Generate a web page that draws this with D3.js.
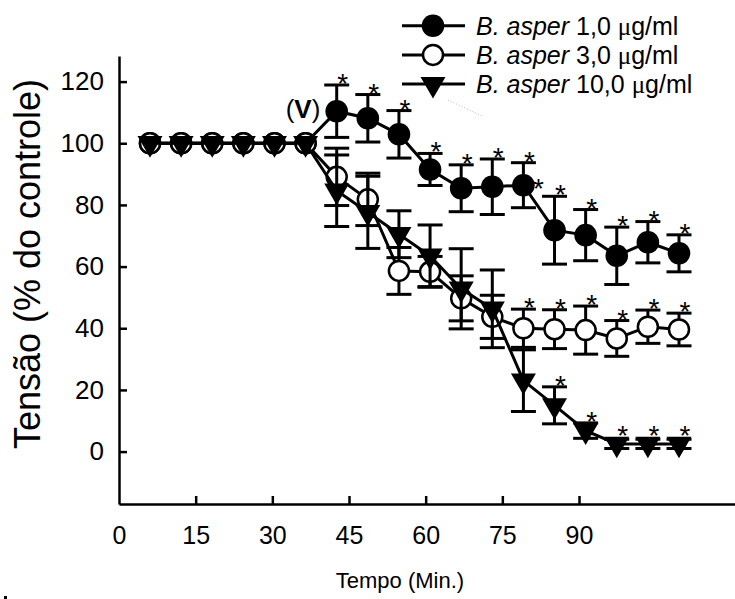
<!DOCTYPE html>
<html>
<head>
<meta charset="utf-8">
<script src="https://cdn.jsdelivr.net/npm/d3@7"></script>
<style>
  body { margin: 0; background: #fff; }
  svg { display: block; font-family: "Liberation Sans", Arial, sans-serif; }
</style>
</head>
<body>
<svg id="chart" width="735" height="599"></svg>
<script>
// data
var times = [5, 10, 15, 20, 25, 30, 35, 40, 45, 50, 55, 60, 65, 70, 75, 80, 85, 90]
var xTickValues = [0, 15, 30, 45, 60, 75, 90]
var yTickValues = [0, 20, 40, 60, 80, 100, 120]

var asper1 = [100, 100, 100, 100, 100, 100, 110.4, 108.1, 102.9, 91.5, 85.4, 85.9, 86.4, 71.8, 70.2, 63.5, 67.9, 64.3]
var asper1Err = [0, 0, 0, 0, 0, 0, 8.5, 7.7, 7.7, 5.2, 7.6, 9, 7.3, 11, 8.3, 9.3, 6.7, 6]
var asper1Sig = [0, 0, 0, 0, 0, 0, 1, 1, 1, 1, 1, 1, 2, 1, 1, 1, 1, 1]

var asper3 = [100, 100, 100, 100, 100, 100, 89.1, 81.8, 58.6, 58.3, 49.7, 43.7, 40, 39.7, 39.4, 36.7, 40.5, 39.6]
var asper3Err = [0, 0, 0, 0, 0, 0, 9.3, 8.5, 7.6, 5, 7.3, 7, 6.2, 6.3, 7.8, 5.8, 5.4, 5.3]
var asper3Sig = [0, 0, 0, 0, 0, 0, 0, 0, 0, 0, 0, 0, 1, 1, 1, 1, 1, 1]

var asper10 = [100, 100, 100, 100, 100, 100, 84.6, 77.6, 70.5, 63.5, 52.8, 46.3, 23, 15, 6.8, 2.5, 2.5, 2.5]
var asper10Err = [0, 0, 0, 0, 0, 0, 11.6, 11.7, 7.6, 10, 13, 12.6, 10, 6, 2.5, 1.5, 1.5, 1.5]
var asper10Sig = [0, 0, 0, 0, 0, 0, 0, 0, 0, 0, 0, 0, 0, 1, 1, 1, 1, 1]

var legendLabels = ["1,0", "3,0", "10,0"]

var svg = d3.select("#chart")

// the printed time labels and the plotted points do not share one scale in the figure
var xData = d3.scaleLinear().domain([5, 90]).range([150, 679])
var xTick = d3.scaleLinear().domain([0, 90]).range([119, 579])
xTick.domain([0, xTick.invert(735)]).range([119, 735])
var y = d3.scaleLinear().domain([-17, 128.3]).range([504, 56])

var xAxis = svg.append("g").attr("transform", "translate(0,504)")
  .call(d3.axisBottom(xTick).tickValues(xTickValues).tickSize(-8).tickSizeOuter(0).tickPadding(22))
var yAxis = svg.append("g").attr("transform", "translate(119,0)")
  .call(d3.axisLeft(y).tickValues(yTickValues).tickSize(-8).tickSizeOuter(0).tickPadding(15))

svg.selectAll(".domain, .tick line").attr("stroke", "#000").attr("stroke-width", 2.5)
svg.selectAll(".tick text").attr("fill", "#000").style("font-size", "25px")
  .style("font-family", "'Liberation Sans', Arial, sans-serif")
yAxis.selectAll(".tick text").style("font-size", "26px")
xAxis.selectAll(".tick line").filter(function(d) { return d == 0 }).remove()

svg.append("text").attr("x", 400).attr("y", 588).attr("text-anchor", "middle")
  .style("font-size", "22px").text("Tempo (Min.)")
svg.append("text").attr("transform", "translate(40,264) rotate(-90)").attr("text-anchor", "middle")
  .style("font-size", "36px").text("Tensão (% do controle)")

var triangle = d3.symbol(d3.symbolTriangle, 270)

function drawMarker(g, kind) {
  if (kind == "filled") g.append("circle").attr("r", 11.3).attr("fill", "#000")
  else if (kind == "open") g.append("circle").attr("r", 10).attr("fill", "#fff").attr("stroke", "#000").attr("stroke-width", 2.5)
  else g.append("path").attr("d", triangle()).attr("transform", "rotate(180)").attr("fill", "#000")
}

var series = [
  {values: asper1, err: asper1Err, sig: asper1Sig, kind: "filled"},
  {values: asper3, err: asper3Err, sig: asper3Sig, kind: "open"},
  {values: asper10, err: asper10Err, sig: asper10Sig, kind: "triangle"}
]

var line = d3.line().x(function(d) { return xData(d.t) }).y(function(d) { return y(d.v) })

series.forEach(function(s) {
  var pts = times.map(function(t, i) { return {t: t, v: s.values[i], e: s.err[i], sig: s.sig[i]} })
  var g = svg.append("g")
  g.append("path").datum(pts).attr("d", line).attr("fill", "none").attr("stroke", "#000").attr("stroke-width", 3)

  var bars = g.selectAll(".err").data(pts.filter(function(d) { return d.e > 0 })).enter().append("g")
  bars.append("line").attr("x1", function(d) { return xData(d.t) }).attr("x2", function(d) { return xData(d.t) })
    .attr("y1", function(d) { return y(d.v + d.e) }).attr("y2", function(d) { return y(d.v - d.e) })
    .attr("stroke", "#000").attr("stroke-width", 3)
  ;[1, -1].forEach(function(sgn) {
    bars.append("line").attr("x1", function(d) { return xData(d.t) - 12.5 }).attr("x2", function(d) { return xData(d.t) + 12.5 })
      .attr("y1", function(d) { return y(d.v + sgn * d.e) }).attr("y2", function(d) { return y(d.v + sgn * d.e) })
      .attr("stroke", "#000").attr("stroke-width", 3)
  })

  g.selectAll(".mk").data(pts).enter().append("g")
    .attr("transform", function(d) { return "translate(" + xData(d.t) + "," + y(d.v) + ")" })
    .each(function() { drawMarker(d3.select(this), s.kind) })

  // significance asterisks sit just above the upper cap (or the marker top)
  var sigPts = pts.filter(function(d) { return d.sig > 0 })
  g.selectAll(".ast").data(sigPts).enter().append("text")
    .attr("x", function(d) { return xData(d.t) + 6 }).attr("text-anchor", "middle")
    .attr("y", function(d) { return Math.min(y(d.v + d.e), y(d.v) - 7) - 8 + 16 })
    .style("font-size", "28px").text("*")
  g.selectAll(".ast2").data(sigPts.filter(function(d) { return d.sig == 2 })).enter().append("text")
    .attr("x", function(d) { return xData(d.t) + 15 }).attr("text-anchor", "middle")
    .attr("y", function(d) { return y(d.v) - 3 + 16 })
    .style("font-size", "28px").text("*")
})

// (V) marks the venom addition
var vLabel = svg.append("text").attr("x", 303).attr("y", 118).attr("text-anchor", "middle").style("font-size", "26px")
vLabel.append("tspan").text("(")
vLabel.append("tspan").style("font-weight", "bold").text("V")
vLabel.append("tspan").text(")")

// legend
var legend = svg.append("g")
series.forEach(function(s, i) {
  var ly = 25.7 + i * 29.2
  legend.append("line").attr("x1", 402).attr("x2", 465).attr("y1", ly).attr("y2", ly).attr("stroke", "#000").attr("stroke-width", 3)
  drawMarker(legend.append("g").attr("transform", "translate(433," + ly + ")"), s.kind)
  var t = legend.append("text").attr("x", 476).attr("y", ly + 9).style("font-size", "25px")
  t.append("tspan").style("font-style", "italic").text("B. asper")
  t.append("tspan").text(" " + legendLabels[i] + " ")
  t.append("tspan").style("font-family", "'Liberation Serif', 'Times New Roman', serif").text("μ")
  t.append("tspan").text("g/ml")
})

// small scan artefacts
svg.append("path").attr("d", "M448,100 L482,116").attr("stroke", "#bbb").attr("stroke-width", 1).attr("stroke-dasharray", "1,2")
svg.append("rect").attr("x", 4).attr("y", 596).attr("width", 3).attr("height", 3).attr("fill", "#000")
</script>
</body>
</html>
